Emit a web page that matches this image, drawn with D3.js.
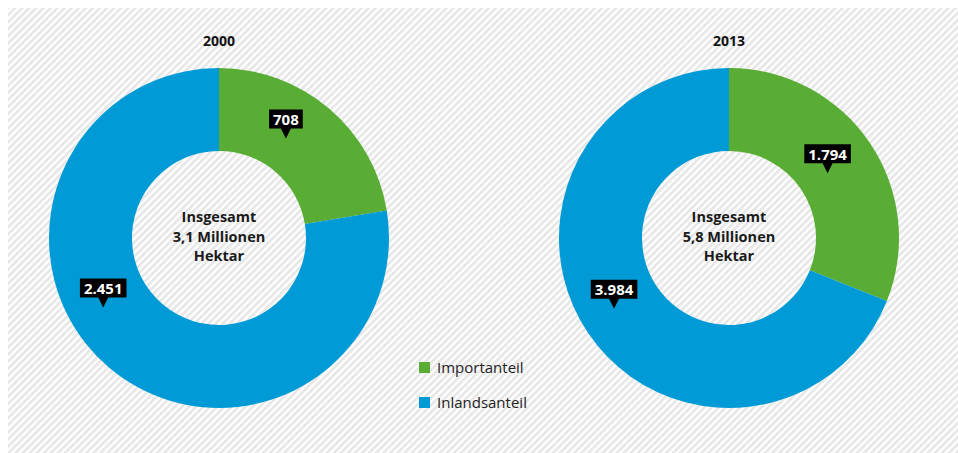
<!DOCTYPE html>
<html><head><meta charset="utf-8">
<script src="https://cdn.jsdelivr.net/npm/d3@7"></script>
<style>
html,body{margin:0;padding:0;background:#fff;}
svg{display:block;font-family:"Open Sans","Noto Sans",sans-serif;}
</style></head>
<body>
<svg id="chart" width="958" height="453"></svg>
<script>
// ---- data ----
const years = ["2000", "2013"];
const seriesNames = ["Importanteil", "Inlandsanteil"];
const importanteil = [708, 1794];      // 1.000 ha
const inlandsanteil = [2451, 3984];    // 1.000 ha
const totalLabels = ["3,1", "5,8"];    // Millionen Hektar
const colors = ["#5aad34", "#009bd6"];

// ---- layout ----
const W = 958, H = 453;
const svg = d3.select("#chart");
const defs = svg.append("defs");
const pat = defs.append("pattern").attr("id", "hatch")
  .attr("patternUnits", "userSpaceOnUse").attr("width", 5).attr("height", 5)
  .attr("patternTransform", "rotate(45)");
pat.append("rect").attr("width", 5).attr("height", 5).attr("fill", "#ffffff");
pat.append("rect").attr("width", 2.6).attr("height", 5).attr("fill", "#e6e6e6");
svg.append("rect").attr("x", 8).attr("y", 8).attr("width", W - 8).attr("height", H - 8)
  .attr("fill", "url(#hatch)");

const cx = d3.scalePoint().domain(years).range([219, 729]);
const cy = 238, rOuter = 170, rInner = 87;
const fmt = d3.formatLocale({decimal: ",", thousands: ".", grouping: [3], currency: ["", ""]}).format(",");

const pie = d3.pie().sort(null).value(d => d.value);
const arc = d3.arc().innerRadius(rInner).outerRadius(rOuter);
// label anchor placement (fraction along slice angle, radius)
const labelPlace = [[{f: 0.42, r: 120}, {f: 0.567, r: 135}], [{f: 0.507, r: 118}, {f: 0.51, r: 135}]];

years.forEach((yr, i) => {
  const data = [
    {name: seriesNames[0], value: importanteil[i]},
    {name: seriesNames[1], value: inlandsanteil[i]}
  ];
  const g = svg.append("g").attr("transform", `translate(${cx(yr)},${cy})`);
  const arcs = pie(data);
  g.selectAll("path.slice").data(arcs).enter().append("path")
    .attr("class", "slice")
    .attr("d", arc)
    .attr("fill", (d, j) => colors[j]);

  // title
  svg.append("text").attr("x", cx(yr)).attr("y", 46).attr("text-anchor", "middle")
    .attr("font-size", 14).attr("font-weight", "bold").attr("fill", "#111").text(yr);

  // center text
  const lines = ["Insgesamt", totalLabels[i] + " Millionen", "Hektar"];
  g.selectAll("text.center").data(lines).enter().append("text")
    .attr("class", "center")
    .attr("x", 0).attr("y", (d, k) => -16 + k * 19.5)
    .attr("text-anchor", "middle").attr("font-size", 14.5).attr("font-weight", "bold")
    .attr("fill", "#1a1a1a").text(d => d);

  // value labels
  arcs.forEach((a, j) => {
    const p = labelPlace[i][j];
    const ang = a.startAngle + (a.endAngle - a.startAngle) * p.f;
    const tx = p.r * Math.sin(ang), ty = -p.r * Math.cos(ang);
    const lg = g.append("g").attr("transform", `translate(${tx},${ty})`);
    const t = lg.append("text").attr("x", 0).attr("y", -19.5)
      .attr("text-anchor", "middle").attr("dominant-baseline", "central")
      .attr("font-size", 15).attr("font-weight", "bold").attr("fill", "#fff")
      .text(fmt(a.data.value));
    const bw = t.node().getComputedTextLength() + 8;
    lg.insert("path", "text")
      .attr("d", `M${-bw / 2},-29 H${bw / 2} V-10 H5 L0,0 L-5,-10 H${-bw / 2} Z`)
      .attr("fill", "#000");
  });
});

// legend
const leg = svg.append("g").attr("transform", "translate(419,362)");
seriesNames.forEach((n, j) => {
  leg.append("rect").attr("x", 0).attr("y", j * 35).attr("width", 11).attr("height", 11).attr("fill", colors[j]);
  leg.append("text").attr("x", 18).attr("y", j * 35 + 11).attr("font-size", 15)
    .attr("fill", "#222").text(n);
});
</script>
</body></html>
